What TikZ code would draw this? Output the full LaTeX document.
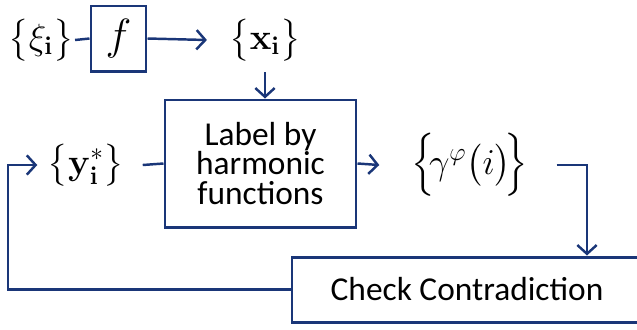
\documentclass[tikz,border=0pt]{standalone}
\usepackage{amsmath,amssymb}
\usepackage[no-math]{fontspec}
\setmainfont{Carlito}
\usepackage{tikz}
\usetikzlibrary{arrows.meta}
\definecolor{navy}{RGB}{26,54,120}
\tikzset{
  box/.style={draw=navy,line width=1.7pt,align=center,inner sep=0pt,
    font=\fontsize{19}{17}\selectfont},
  setnode/.style={inner sep=0pt,font=\fontsize{20}{24}\selectfont},
  link/.style={draw=navy,line width=1.4pt},
  flow/.style={link,-{Straight Barb[length=5pt,width=11pt,line width=1.4pt]}}
}

\begin{document}
\begin{tikzpicture}[x=0.2mm,y=-0.2mm]
\clip (0,0) rectangle (637,329);
\useasboundingbox (0,0) rectangle (637,329);
\node[setnode] (xi) at (41,40) {$\bigl\{\xi_{\mathbf{i}}\bigr\}$};
\node[box,minimum width=11mm,minimum height=13mm] (fbox) at (118.5,38.5)
  {\fontsize{23}{24}\selectfont$f$};
\node[setnode] (xset) at (265,40) {$\bigl\{\mathbf{x}_{\mathbf{i}}\bigr\}$};
\node[box,minimum width=38.2mm,minimum height=25.4mm] (labelbox) at (260.5,163.5)
  {Label by\\harmonic\\functions};
\node[setnode] (ystar) at (86,165) {$\bigl\{\mathbf{y}^{*}_{\mathbf{i}}\bigr\}$};
\node[setnode] (gamma) at (470,165) {$\Bigl\{\!\gamma^{\varphi}\bigl(i\bigr)\!\Bigr\}$};
\node[box,minimum width=70mm,minimum height=13mm] (check) at (467,289.5)
  {Check Contradiction};
\coordinate (turn) at (587,164);
\coordinate (back) at (8,220);
\draw[link] ([xshift=0.2mm]xi.east) -- (fbox.west);
\draw[flow] (fbox.east) -- ([xshift=-4.4mm]xset.west);
\draw[flow] ([yshift=-2mm]xset.south) -- (labelbox.north -| xset.south);
\draw[link] ([xshift=3.6mm]ystar.east) -- (labelbox.west);
\draw[flow] (labelbox.east) -- ([xshift=-6.4mm]gamma.west);
\draw[flow] ([xshift=5.6mm]gamma.east) -| (check.north -| turn);
\draw[flow] (check.west) -| (back) |- ([xshift=-2mm]ystar.west);
\end{tikzpicture}
\end{document}
